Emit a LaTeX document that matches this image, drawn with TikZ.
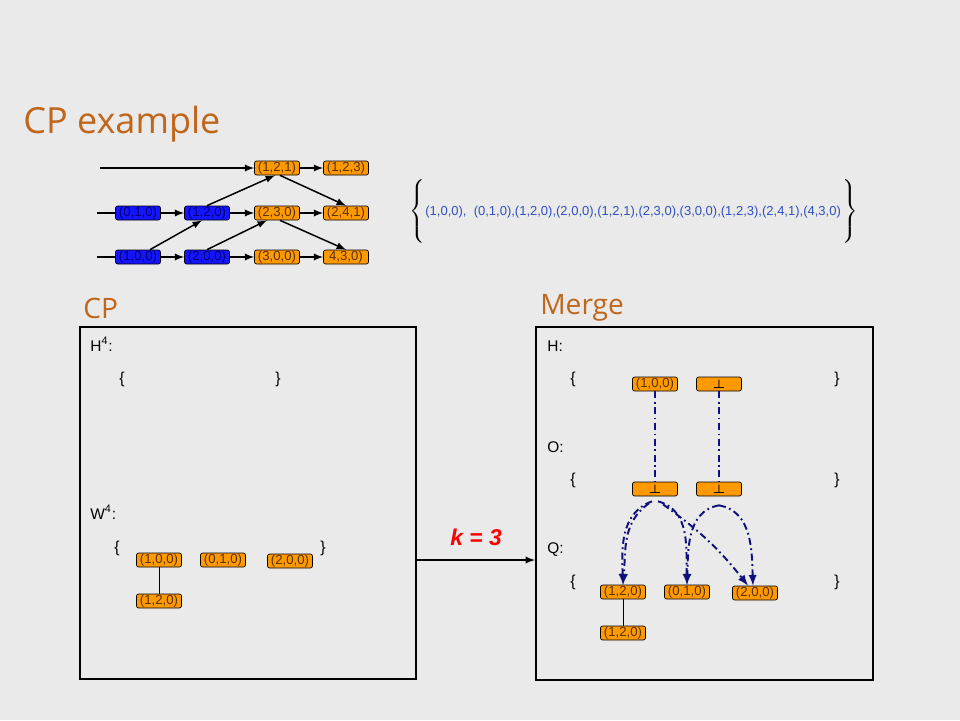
\documentclass[tikz,border=0pt]{standalone}
\usepackage{fontspec}
\setmainfont{Liberation Sans}
\newfontfamily\headfont{Open Sans}
\usetikzlibrary{calc}

\definecolor{bggray}{HTML}{EAEAEA}
\definecolor{boxorange}{HTML}{FF9900}
\definecolor{boxblue}{HTML}{1414FF}
\definecolor{boxtext}{HTML}{5A3200}
\definecolor{bluetext}{HTML}{000070}
\definecolor{settext}{HTML}{3050C0}
\definecolor{headbrown}{HTML}{C0661A}
\definecolor{navy}{HTML}{10107A}

\newcommand{\nilval}{\textcolor{black}{\boldmath$\perp$}}

\tikzset{
  obox/.style={draw=black, fill=boxorange, text=boxtext, rounded corners=1.2pt,
    minimum width=0.9cm, minimum height=0.28cm, inner sep=0pt,
    font=\fontsize{7.5}{8}\selectfont},
  bbox/.style={obox, fill=boxblue, text=bluetext},
  panel/.style={draw=black, line width=1.1pt, fill=bggray},
  head/.style={anchor=base west, inner sep=0pt, text=headbrown, font=\headfont\fontsize{16}{18}\selectfont},
  lbl/.style={anchor=base west, inner sep=0pt, font=\fontsize{8.8}{10}\selectfont},
  brc/.style={font=\fontsize{9}{10}\selectfont},
  flow/.style={draw=navy, line width=1.1pt, dash pattern=on 4pt off 2pt on 1pt off 2pt, -latex},
  arr/.style={line width=0.85pt, -latex}
}

\begin{document}
\begin{tikzpicture}[x=0.02cm, y=-0.02cm]
\fill[bggray] (0,0) rectangle (960,720);
\useasboundingbox (0,0) rectangle (960,720);

\node[head, font=\headfont\fontsize{20.5}{22}\selectfont] (title) at (23,133) {CP example};

% top structure
\coordinate (s1) at (100,168);
\coordinate (s2) at (97,213);
\coordinate (s3) at (97,257);
\node[obox] (t121) at (277,168) {(1,2,1)};
\node[obox] (t123) at (346,168) {(1,2,3)};
\node[bbox] (b010) at (138,213) {(0,1,0)};
\node[bbox] (b120) at (207,213) {(1,2,0)};
\node[obox] (t230) at (277,213) {(2,3,0)};
\node[obox] (t241) at (346,213) {(2,4,1)};
\node[bbox] (b100) at (138,257) {(1,0,0)};
\node[bbox] (b200) at (207,257) {(2,0,0)};
\node[obox] (t300) at (277,257) {(3,0,0)};
\node[obox] (t430) at (346,257) {4,3,0)};

\draw[arr] (s1) -- (t121);
\draw[arr] (t121) -- (t123);
\draw[line width=0.85pt] (s2) -- (b010);
\draw[arr] (b010) -- (b120);
\draw[arr] (b120) -- (t230);
\draw[arr] (t230) -- (t241);
\draw[line width=0.85pt] (s3) -- (b100);
\draw[arr] (b100) -- (b200);
\draw[arr] (b200) -- (t300);
\draw[arr] (t300) -- (t430);

\draw[arr] ($(b100.north)+(12,0)$) -- ($(b120.south)+(-5,0)$);
\draw[arr] (b120.north) -- ($(t121.south)+(-2,0)$);
\draw[arr] ($(t121.south)+(3,0)$) -- (t241.north);
\draw[arr] (b200.north) -- ($(t230.south)+(-10,0)$);
\draw[arr] ($(t230.south)+(3,0)$) -- (t430.north);

% the whole sequence
\node (setl) at (418,212) {$\left\{\vrule height 16pt depth 16pt width 0pt\right.$};
\node[anchor=west, inner sep=0pt, text=settext, font=\fontsize{7.4}{8}\selectfont] (seq) at (425,212)
  {(1,0,0),\ \ (0,1,0),(1,2,0),(2,0,0),(1,2,1),(2,3,0),(3,0,0),(1,2,3),(2,4,1),(4,3,0)};
\node (setr) at (849,212) {$\left.\vrule height 16pt depth 16pt width 0pt\right\}$};

% panels
\node[head] (cplbl) at (83,318) {CP};
\node[head] (mglbl) at (540,314) {Merge};
\node[panel, minimum width=6.72cm, minimum height=7.04cm] (cpbox) at (248,503) {};
\node[panel, minimum width=6.74cm, minimum height=7.06cm] (mgbox) at (704.5,503.5) {};

% CP side
\node[lbl] (hcp) at (90,351) {H\textsuperscript{4}:};
\node[brc] (hcpl) at (122,379) {\{};
\node[brc] (hcpr) at (278,379) {\}};
\node[lbl] (wcp) at (90,519) {W\textsuperscript{4}:};
\node[brc] (wcpl) at (117,548) {\{};
\node[brc] (wcpr) at (323,548) {\}};
\node[obox] (w100) at (159,560) {(1,0,0)};
\node[obox] (w010) at (223,560) {(0,1,0)};
\node[obox] (w200) at (290,561) {(2,0,0)};
\node[obox] (w120) at (159,601) {(1,2,0)};
\draw (w100) -- (w120);

% k = 3
\draw[arr] (cpbox.east |- w100) -- (mgbox.west |- w100);
\node[anchor=base, text=red, font=\fontsize{13}{15}\selectfont\bfseries\itshape] (klbl) at (476,545) {k = 3};

% Merge side
\node[lbl] (hmg) at (547,351) {H:};
\node[brc] (hmgl) at (573,379) {\{};
\node[brc] (hmgr) at (837,379) {\}};
\node[lbl] (omg) at (547,452) {O:};
\node[brc] (omgl) at (573,480) {\{};
\node[brc] (omgr) at (837,480) {\}};
\node[lbl] (qmg) at (547,553) {Q:};
\node[brc] (qmgl) at (573,582) {\{};
\node[brc] (qmgr) at (837,582) {\}};

\node[obox] (h1) at (655,384) {(1,0,0)};
\node[obox] (h2) at (719,384) {\nilval};
\node[obox] (o1) at (655,489) {\nilval};
\node[obox] (o2) at (719,489) {\nilval};
\node[obox] (q1) at (623,592) {(1,2,0)};
\node[obox] (q2) at (687,592) {(0,1,0)};
\node[obox] (q3) at (755,593) {(2,0,0)};
\node[obox] (q4) at (623,633) {(1,2,0)};
\draw (q1) -- (q4);

\draw[flow, -] (h1.south) -- (o1.north);
\draw[flow, -] (h2.south) -- (o2.north);
\draw[flow] ($(o1.south)+(-3,5)$) to[out=200,in=92] (q1.north);
\draw[flow] ($(o1.south)+(-6,7)$) to[out=215,in=85] (q1.north);
\draw[flow] ($(o1.south)+(3,5)$) to[out=-15,in=92] (q2.north);
\draw[flow] ($(o1.south)+(8,8)$) to[bend left=8] ($(q3.north)+(-7,0)$);
\draw[flow] ($(o2.south)+(0,9)$) to[out=190,in=88] (q2.north);
\draw[flow] ($(o2.south)+(0,9)$) to[out=-10,in=92] ($(q3.north)+(-2,0)$);
\end{tikzpicture}
\end{document}
